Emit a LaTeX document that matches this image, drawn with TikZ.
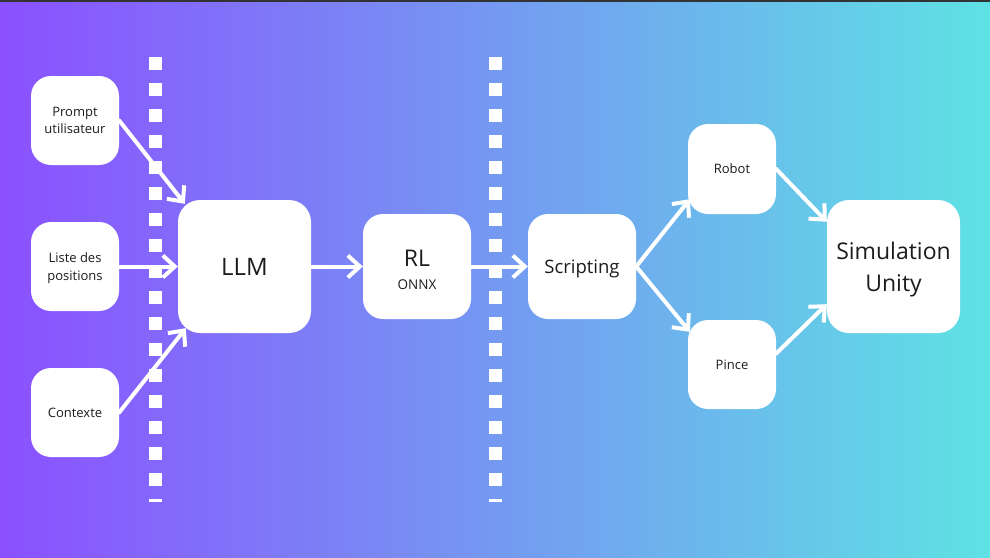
\documentclass[tikz,border=0pt]{standalone}
\usepackage{fontspec}
\setmainfont{Open Sans}
\usetikzlibrary{arrows.meta}
\definecolor{bgL}{RGB}{139,80,255}
\definecolor{bgR}{RGB}{94,226,228}
\definecolor{txt}{RGB}{28,28,28}
\begin{document}
\begin{tikzpicture}[x=1pt,y=-1pt,
  box/.style={fill=white, rounded corners=20pt, inner sep=0pt, align=center, text=txt},
  smallbox/.style={box, minimum width=88pt, minimum height=89pt, text depth=0pt, font=\fontsize{13}{17.7}\selectfont},
  bigbox/.style={box, minimum width=133pt, minimum height=133pt, rounded corners=22pt},
  arr/.style={white, line width=4pt, line cap=round, line join=round, -{Straight Barb[length=12pt,width=22pt]}},
  sepline/.style={white, line width=13pt, dash pattern=on 13pt off 13pt}]
\useasboundingbox (0,0) rectangle (990,557);
\shade[left color=bgL, right color=bgR] (0,0) rectangle (990,557);
\fill[black!80] (0,0) rectangle (990,1.5);

\coordinate (s1a) at (155,57); \coordinate (s1b) at (155,502);
\coordinate (s2a) at (495.5,57); \coordinate (s2b) at (495.5,502);
\draw[sepline] (s1a) -- (s1b);
\draw[sepline] (s2a) -- (s2b);

\node[smallbox] (prompt) at (75,120.5) {Prompt\\utilisateur};
\node[smallbox] (liste) at (75,266.5) {Liste des\\positions};
\node[smallbox] (ctx) at (75,412.5) {Contexte};
\node[bigbox, font=\fontsize{24}{32}\selectfont] (llm) at (244.5,266.5) {LLM};
\node[box, minimum width=108pt, minimum height=105pt, text height=45pt, text depth=0pt, font=\fontsize{13.5}{23}\selectfont] (rl) at (417,266.5)
  {{\fontsize{23}{23}\selectfont RL}\\ONNX};
\node[box, minimum width=108pt, minimum height=105pt, text depth=0pt, font=\fontsize{18.5}{24}\selectfont] (scr) at (582,266.5) {Scripting};
\node[smallbox, minimum height=90pt] (robot) at (732,169) {Robot};
\node[smallbox] (pince) at (732,364.5) {Pince};
\node[bigbox, text depth=0pt, font=\fontsize{23}{31.7}\selectfont] (sim) at (893.5,266.5) {Simulation\\Unity};

\draw[arr] (prompt.east) -- ([shift={(7,4)}]llm.north west);
\draw[arr] (liste.east) -- (llm.west);
\draw[arr] (ctx.east) -- ([shift={(8,-5)}]llm.south west);
\draw[arr] (llm.east) -- (rl.west);
\draw[arr] (rl.east) -- (scr.west);
\draw[arr] (scr.east) -- ([shift={(2,-15)}]robot.south west);
\draw[arr] (scr.east) -- ([shift={(2,12)}]pince.north west);
\draw[arr] (robot.east) -- ([shift={(0,22)}]sim.north west);
\draw[arr] ([shift={(0,-11)}]pince.east) -- ([shift={(0,-29)}]sim.south west);
\end{tikzpicture}
\end{document}
